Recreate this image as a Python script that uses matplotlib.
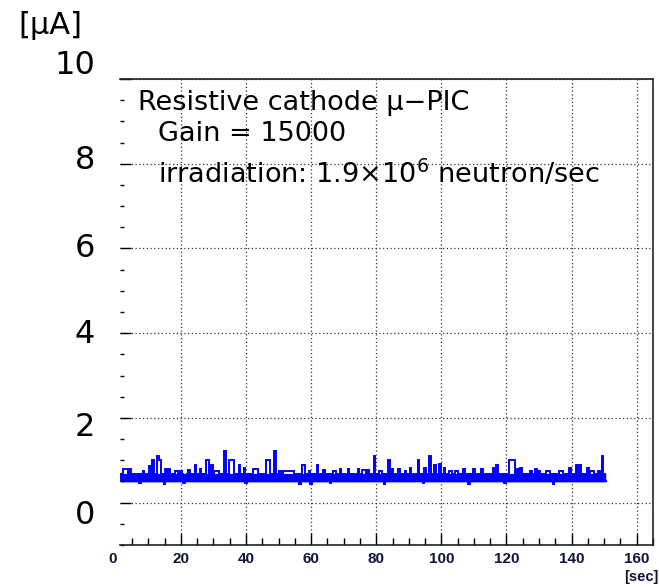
import numpy as np
import matplotlib
matplotlib.use("Agg")
import matplotlib.pyplot as plt
from matplotlib.ticker import MultipleLocator

plt.rcParams["mathtext.fontset"] = "dejavusans"

# sampling of the current readout (seconds)
t_start = 1.5
t_step = 0.5

# current in units of 0.01 uA, one value per sample
current_centi_uA = [
    50, 68, 80, 80, 80, 68, 80, 68, 50, 68, 50, 68, 46, 68, 74, 68, 50, 68, 86, 50,
    100, 68, 50, 111, 100, 50, 68, 44, 80, 50, 80, 68, 50, 68, 74, 74, 50, 74, 68, 46,
    50, 68, 76, 50, 68, 50, 90, 68, 50, 80, 68, 50, 68, 100, 100, 50, 90, 68, 74, 74,
    74, 68, 50, 68, 121, 50, 68, 100, 100, 100, 68, 50, 68, 90, 50, 68, 82, 46, 68, 50,
    68, 50, 80, 80, 80, 50, 68, 50, 68, 50, 100, 100, 68, 50, 68, 121, 50, 68, 74, 50,
    74, 74, 74, 74, 74, 74, 74, 68, 50, 68, 44, 68, 90, 90, 50, 68, 74, 44, 68, 50,
    68, 90, 50, 68, 50, 76, 68, 50, 68, 46, 68, 74, 74, 50, 68, 80, 50, 68, 50, 68,
    80, 68, 50, 68, 50, 68, 80, 50, 68, 76, 76, 50, 76, 68, 50, 68, 110, 50, 68, 74,
    74, 68, 44, 68, 50, 100, 68, 80, 50, 68, 50, 80, 68, 50, 68, 74, 50, 68, 82, 50,
    68, 50, 68, 100, 50, 68, 46, 82, 68, 50, 110, 68, 50, 90, 68, 50, 92, 68, 50, 82,
    68, 50, 74, 74, 68, 50, 74, 74, 68, 50, 68, 80, 50, 68, 44, 68, 50, 80, 68, 50,
    68, 50, 80, 68, 50, 68, 50, 68, 50, 82, 68, 90, 50, 68, 50, 68, 46, 68, 50, 100,
    100, 100, 100, 68, 80, 50, 82, 68, 50, 68, 50, 68, 74, 50, 68, 80, 68, 74, 50, 68,
    50, 68, 74, 74, 50, 68, 44, 68, 50, 68, 74, 74, 50, 68, 50, 68, 82, 50, 68, 50,
    90, 68, 90, 50, 68, 50, 68, 82, 50, 74, 74, 68, 50, 68, 74, 68, 110, 68, 50,
]

# fast noise keeps the trace inside this band almost all the time (uA)
band_low = 0.49
band_high = 0.69

y_ticks = [0, 2, 4, 6, 8, 10]
x_ticks = [20, 40, 60, 80, 100, 120, 140, 160]
# small vertical shifts of the y labels as they sit in the original (pixels)
y_label_shift = [-13, -10, -1, 0, 3, 14]

current = np.array(current_centi_uA) / 100.0
t = t_start + t_step * np.arange(len(current))

W, H = 659, 587
fig = plt.figure(figsize=(W / 100, H / 100), dpi=100)
ax = fig.add_axes([120 / W, 1 - 545 / H, (653.3 - 120) / W, (545 - 79) / H])

blue = "#0000ff"
ax.fill_between(t, band_low, band_high, step="mid", color=blue, lw=0)
ax.plot(t, current, color=blue, lw=1.4, drawstyle="steps-mid",
        solid_joinstyle="miter")

ax.set_xlim(1.3, 165.1)
ax.set_ylim(-1, 10)

ax.set_xticks(x_ticks)
ax.set_xticklabels([str(v) for v in x_ticks])
ax.xaxis.set_minor_locator(MultipleLocator(5))
ax.set_yticks(y_ticks)
ax.yaxis.set_minor_locator(MultipleLocator(0.5))

tick_col = "#14143a"
ax.tick_params(axis="x", which="major", direction="in", length=8.6, width=1,
               pad=5, labelsize=11, labelcolor=tick_col)
ax.tick_params(axis="x", which="minor", direction="in", length=5, width=1)
ax.tick_params(axis="y", which="major", direction="in", length=8, width=1,
               labelleft=False)
ax.tick_params(axis="y", which="minor", direction="in", length=3, width=1)
for lab in ax.get_xticklabels():
    lab.set_fontfamily("Liberation Sans")
    lab.set_fontweight("bold")

ax.grid(True, which="major", linestyle=(0, (1, 2)), color="#333333", lw=0.9)
ax.spines["left"].set_visible(False)
for side in ["top", "right", "bottom"]:
    ax.spines[side].set_linewidth(1.2)
    ax.spines[side].set_color("#222222")

# big y labels, placed by hand like the original
for v, dy in zip(y_ticks, y_label_shift):
    ax.annotate(str(v), xy=(0, v), xycoords=("axes fraction", "data"),
                xytext=(-25 * 0.72, dy * 0.72), textcoords="offset points",
                ha="right", va="center", fontsize=23, color="black")

# label for x = 0 sits left of the frame
ax.annotate("0", xy=(0, 0), xycoords=("data", "axes fraction"),
            xytext=(-2, -14 * 0.72), textcoords="offset points",
            ha="center", va="center", fontsize=11, fontweight="bold",
            family="Liberation Sans", color=tick_col, annotation_clip=False)

fig.text(50 / W, 1 - 25 / H, "[\u03bcA]", ha="center", va="center", fontsize=22)
fig.text(641 / W, 1 - 577 / H, "[sec]", ha="center", va="center", fontsize=10.5,
         fontweight="bold", family="Liberation Sans", color=tick_col)

fig.text(138 / W, 1 - 103 / H, "Resistive cathode \u03bc\u2212PIC",
         ha="left", va="center", fontsize=19.5)
fig.text(158 / W, 1 - 134 / H, "Gain = 15000",
         ha="left", va="center", fontsize=19.5)
fig.text(158 / W, 1 - 174 / H, r"irradiation: 1.9$\times$10$^{6}$ neutron/sec",
         ha="left", va="center", fontsize=19.5)

fig.savefig("out.png", dpi=100)
